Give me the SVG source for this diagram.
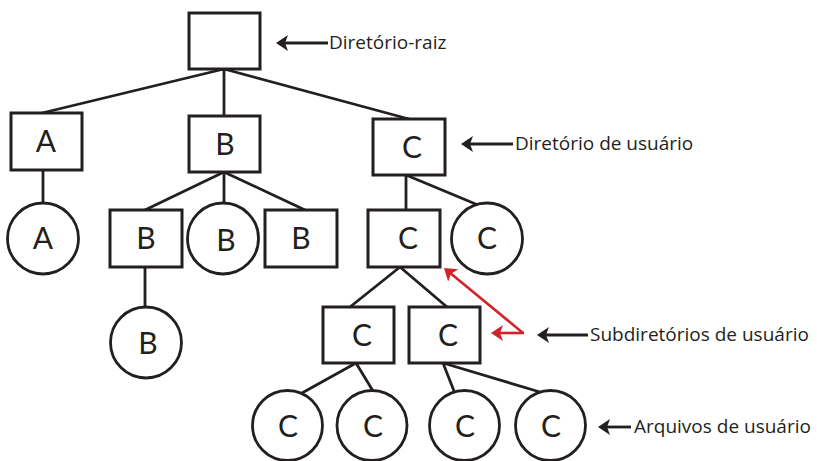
<svg xmlns="http://www.w3.org/2000/svg" width="817" height="461" viewBox="0 0 817 461">
<defs>
<style>
.box{fill:#fff;stroke:#231f20;stroke-width:3}
.circ{fill:#fff;stroke:#231f20;stroke-width:2.8}
.ln{stroke:#231f20;stroke-width:2.8;fill:none}
.red{stroke:#d2232a;stroke-width:2.6;fill:none}
.lt{font-family:Lato,"Liberation Sans",sans-serif;font-size:30px;fill:#231f20;text-anchor:middle}
.lab{font-family:"Open Sans","Liberation Sans",sans-serif;font-size:19px;fill:#231f20}
</style>
<marker id="ah" markerUnits="userSpaceOnUse" markerWidth="12" markerHeight="16" refX="8" refY="8" orient="auto">
<path d="M0,0 L12,8 L0,16 L3,8 z" fill="#231f20"/>
</marker>
<marker id="ahr" markerUnits="userSpaceOnUse" markerWidth="12" markerHeight="16" refX="8" refY="8" orient="auto">
<path d="M0,0 L12,8 L0,16 L3,8 z" fill="#d2232a"/>
</marker>
</defs>
<rect width="817" height="461" fill="#fff"/>
<g id="connectors">
<line class="ln" x1="224" y1="69" x2="42" y2="113"/>
<line class="ln" x1="224" y1="69" x2="224" y2="116"/>
<line class="ln" x1="224" y1="69" x2="409" y2="119"/>
<line class="ln" x1="43" y1="170" x2="43" y2="203"/>
<line class="ln" x1="224" y1="172" x2="145" y2="210"/>
<line class="ln" x1="224" y1="172" x2="224" y2="203"/>
<line class="ln" x1="224" y1="172" x2="305" y2="210"/>
<line class="ln" x1="406" y1="175" x2="406" y2="210"/>
<line class="ln" x1="406" y1="175" x2="478" y2="205"/>
<line class="ln" x1="145" y1="267" x2="145" y2="307"/>
<line class="ln" x1="400" y1="267" x2="350" y2="307"/>
<line class="ln" x1="400" y1="267" x2="447" y2="307"/>
<line class="ln" x1="356" y1="363" x2="302" y2="393"/>
<line class="ln" x1="356" y1="363" x2="373" y2="391"/>
<line class="ln" x1="443" y1="363" x2="454" y2="391"/>
<line class="ln" x1="443" y1="363" x2="540" y2="392"/>
</g>
<g id="root"><rect class="box" x="189" y="13" width="71" height="56"/></g>
<g id="dirA"><rect class="box" x="11" y="113" width="71" height="57"/><text class="lt" x="46" y="152">A</text></g>
<g id="dirB"><rect class="box" x="189" y="116" width="71" height="56"/><text class="lt" x="225" y="155">B</text></g>
<g id="dirC"><rect class="box" x="373" y="119" width="72" height="56"/><text class="lt" x="412" y="158">C</text></g>
<g id="fileA"><circle class="circ" cx="43" cy="238.5" r="35.5"/><text class="lt" x="43" y="249">A</text></g>
<g id="subB1"><rect class="box" x="110" y="210" width="72" height="57"/><text class="lt" x="146" y="249">B</text></g>
<g id="fileB1"><circle class="circ" cx="223" cy="238.5" r="35.5"/><text class="lt" x="226" y="251">B</text></g>
<g id="subB3"><rect class="box" x="265" y="210" width="72" height="57"/><text class="lt" x="301" y="249">B</text></g>
<g id="subC1"><rect class="box" x="368" y="210" width="72" height="57"/><text class="lt" x="408" y="249">C</text></g>
<g id="fileC1"><circle class="circ" cx="487" cy="238.5" r="35.5"/><text class="lt" x="487" y="249">C</text></g>
<g id="fileB2"><circle class="circ" cx="146" cy="342.5" r="35.5"/><text class="lt" x="148" y="354">B</text></g>
<g id="subC3"><rect class="box" x="323" y="307" width="71" height="56"/><text class="lt" x="362" y="346">C</text></g>
<g id="subC4"><rect class="box" x="409" y="307" width="71" height="56"/><text class="lt" x="448" y="346">C</text></g>
<g id="fileC2"><circle class="circ" cx="287.5" cy="425.5" r="35"/><text class="lt" x="288" y="437">C</text></g>
<g id="fileC3"><circle class="circ" cx="372" cy="425.5" r="35"/><text class="lt" x="373" y="437">C</text></g>
<g id="fileC4"><circle class="circ" cx="464.5" cy="425.5" r="35"/><text class="lt" x="465" y="437">C</text></g>
<g id="fileC5"><circle class="circ" cx="550.5" cy="425.5" r="35"/><text class="lt" x="551" y="437">C</text></g>
<g id="annotations">
<line class="ln" x1="328" y1="43" x2="280" y2="43" marker-end="url(#ah)"/>
<text class="lab" x="329" y="49">Diretório-raiz</text>
<line class="ln" x1="513" y1="144" x2="465" y2="144" marker-end="url(#ah)"/>
<text class="lab" x="515" y="150">Diretório de usuário</text>
<line class="ln" x1="588" y1="335" x2="541" y2="335" marker-end="url(#ah)"/>
<text class="lab" x="590" y="341">Subdiretórios de usuário</text>
<line class="ln" x1="631" y1="427" x2="602" y2="427" marker-end="url(#ah)"/>
<text class="lab" x="634" y="433">Arquivos de usuário</text>
<line class="red" x1="523" y1="333" x2="447.1" y2="270.5" marker-end="url(#ahr)"/>
<line class="red" x1="524" y1="333" x2="495" y2="333" marker-end="url(#ahr)"/>
</g>
</svg>
